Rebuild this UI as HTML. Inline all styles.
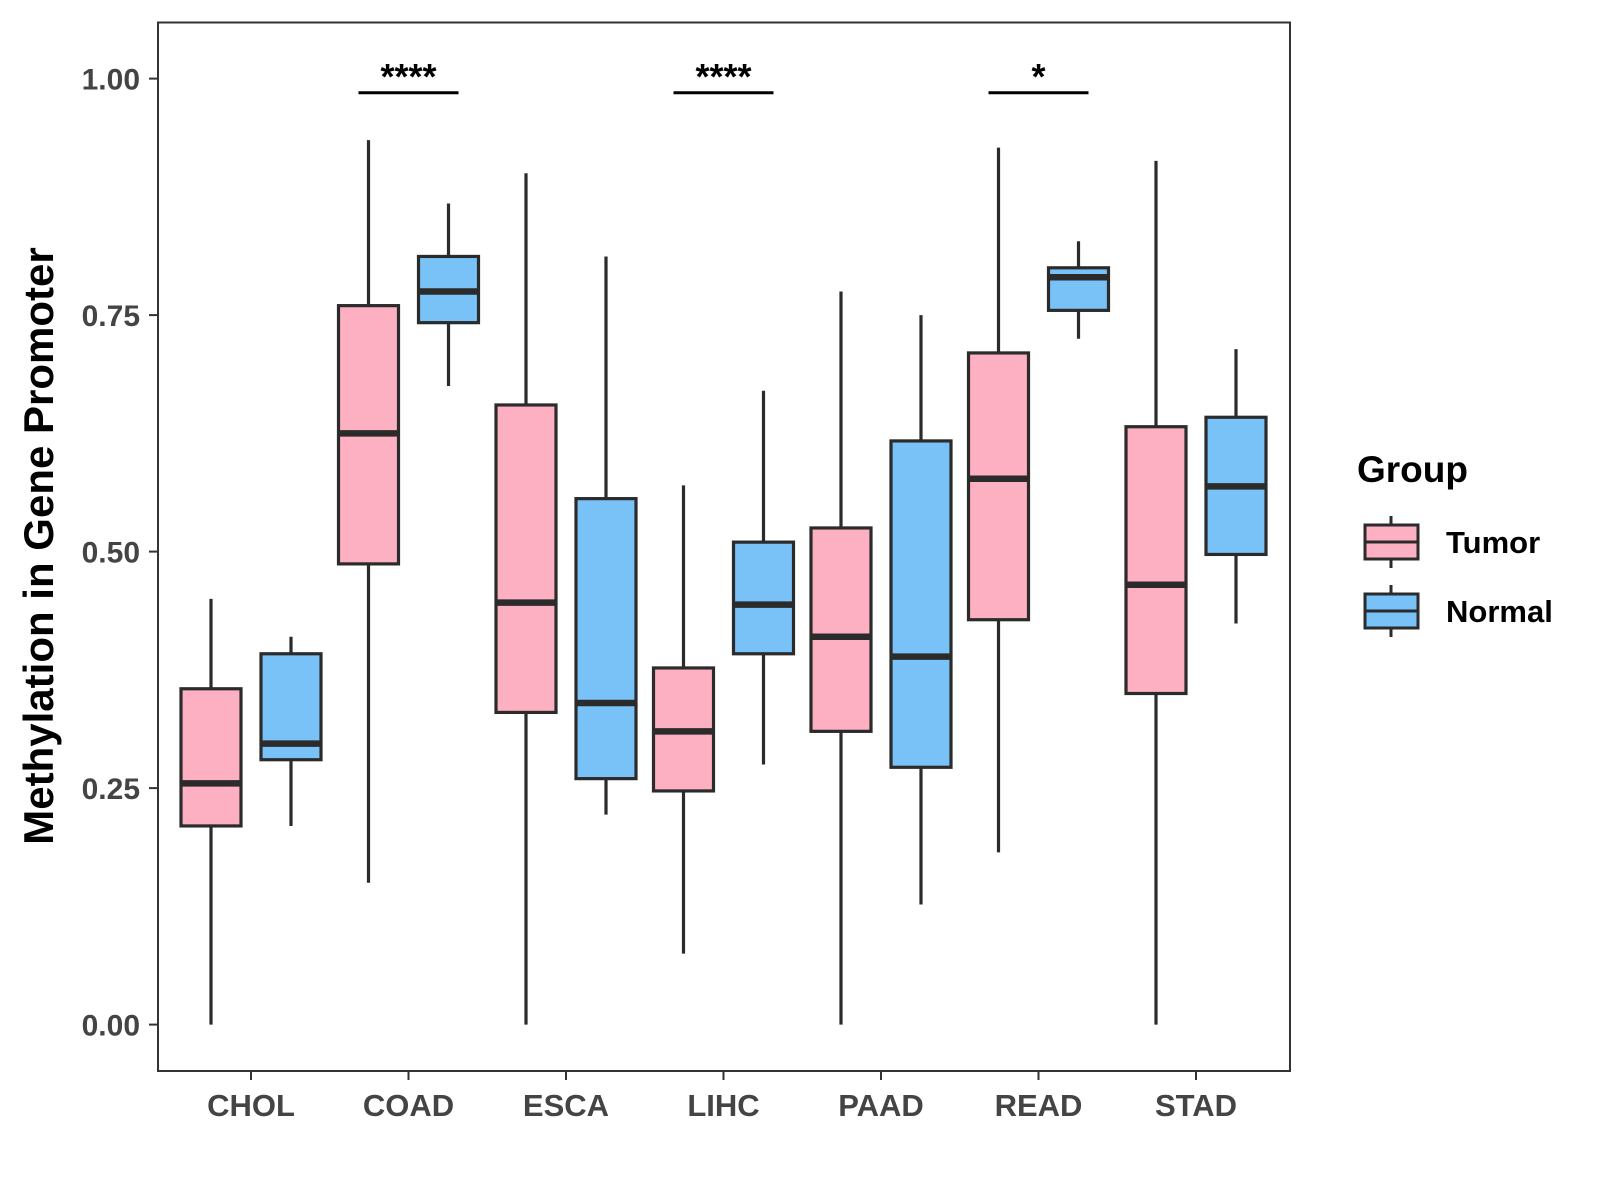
<!DOCTYPE html>
<html><head><meta charset="utf-8"><style>
body{margin:0;background:#fff}
svg{display:block;font-family:"Liberation Sans",Arial,sans-serif;font-weight:bold}
</style></head><body>
<svg id="chart" width="1600" height="1200" viewBox="0 0 1600 1200" xmlns="http://www.w3.org/2000/svg">
<rect x="0" y="0" width="1600" height="1200" fill="#fff"/>
<g id="plot"></g>
<text transform="translate(53,546) rotate(-90)" text-anchor="middle" font-size="42" fill="#000">Methylation in Gene Promoter</text>
<g>
<text x="1357" y="482" font-size="37" fill="#000">Group</text>
<g id="legend-keys"></g>
</g>
</svg>
<script>
const categories = ["CHOL","COAD","ESCA","LIHC","PAAD","READ","STAD"];
const tumorStats = [ // [lower whisker, q1, median, q3, upper whisker]
 [0.00,0.21,0.255,0.355,0.45],
 [0.15,0.487,0.625,0.76,0.935],
 [0.00,0.33,0.446,0.655,0.90],
 [0.075,0.247,0.31,0.377,0.57],
 [0.00,0.31,0.41,0.525,0.775],
 [0.182,0.428,0.577,0.71,0.927],
 [0.00,0.35,0.465,0.632,0.913]
];
const normalStats = [
 [0.21,0.28,0.297,0.392,0.41],
 [0.675,0.742,0.775,0.812,0.868],
 [0.222,0.26,0.34,0.556,0.812],
 [0.275,0.392,0.444,0.51,0.67],
 [0.127,0.272,0.389,0.617,0.75],
 [0.725,0.755,0.79,0.80,0.828],
 [0.424,0.497,0.569,0.642,0.714]
];
const yTicks = [0,0.25,0.5,0.75,1.0];
const yTickLabels = ["0.00","0.25","0.50","0.75","1.00"];
const sigCategories = ["COAD","LIHC","READ"];
const sigLabels = ["****","****","*"];
const sigLevel = 0.985;

const NS="http://www.w3.org/2000/svg";
const L=158,T=22.5,R=1290,B=1071;
const y=v=>1024.6-v*946;
const x=i=>251+i*157.5;
const OFF=40,BW=60;
const plot=document.getElementById('plot');
function mk(tag,attrs,parent){const e=document.createElementNS(NS,tag);for(const k in attrs)e.setAttribute(k,attrs[k]);(parent||plot).appendChild(e);return e;}

const panel=mk('rect',{x:L,y:T,width:R-L,height:B-T,fill:'none',stroke:'#333','stroke-width':2});



yTicks.forEach((v,i)=>{
 const t=mk('line',{x1:L-9,x2:L,y1:y(v),y2:y(v),stroke:'#333','stroke-width':2});
 
 
 const lb=mk('text',{x:L-18,y:y(v)+11,'text-anchor':'end','font-size':30,fill:'#444'});
 lb.textContent=yTickLabels[i];
 
 
});
categories.forEach((c,i)=>{
 const t=mk('line',{x1:x(i),x2:x(i),y1:B,y2:B+9,stroke:'#333','stroke-width':2});
 
 
 const lb=mk('text',{x:x(i),y:1116,'text-anchor':'middle','font-size':31,fill:'#444'});
 lb.textContent=c;
 
 
});
function box(cx,s,fill,name){
 const g=mk('g',{});
 
 
 mk('line',{x1:cx,x2:cx,y1:y(s[0]),y2:y(s[4]),stroke:'#2b2b2b','stroke-width':3.2},g);
 mk('rect',{x:cx-BW/2,y:y(s[3]),width:BW,height:y(s[1])-y(s[3]),fill:fill,stroke:'#2b2b2b','stroke-width':3.2},g);
 mk('line',{x1:cx-BW/2,x2:cx+BW/2,y1:y(s[2]),y2:y(s[2]),stroke:'#2b2b2b','stroke-width':6.5},g);
}
categories.forEach((c,i)=>{
 box(x(i)-OFF,tumorStats[i],'#fdb0c1','box-tumor-'+c.toLowerCase());
 box(x(i)+OFF,normalStats[i],'#78c2f8','box-normal-'+c.toLowerCase());
});
sigCategories.forEach((c,k)=>{
 const i=categories.indexOf(c);
 const ln=mk('line',{x1:x(i)-OFF-10,x2:x(i)+OFF+10,y1:y(sigLevel),y2:y(sigLevel),stroke:'#000','stroke-width':3});
 
 
 const tx=mk('text',{x:x(i),y:y(sigLevel)-4,'text-anchor':'middle','font-size':36,fill:'#000'});
 tx.textContent=sigLabels[k];
 
 
});
const lk=document.getElementById('legend-keys');
[["Tumor","#fdb0c1",542],["Normal","#78c2f8",611]].forEach(([n,f,cy])=>{
 const g=mk('g',{},lk);
 
 
 mk('line',{x1:1391,x2:1391,y1:cy-26,y2:cy+26,stroke:'#2b2b2b','stroke-width':3},g);
 mk('rect',{x:1365,y:cy-17,width:53,height:34,fill:f,stroke:'#2b2b2b','stroke-width':3},g);
 mk('line',{x1:1365,x2:1418,y1:cy,y2:cy,stroke:'#2b2b2b','stroke-width':3},g);
 const t=mk('text',{x:1446,y:cy+11,'font-size':31,fill:'#000'},g);
 t.textContent=n;
});
</script>
</body></html>
